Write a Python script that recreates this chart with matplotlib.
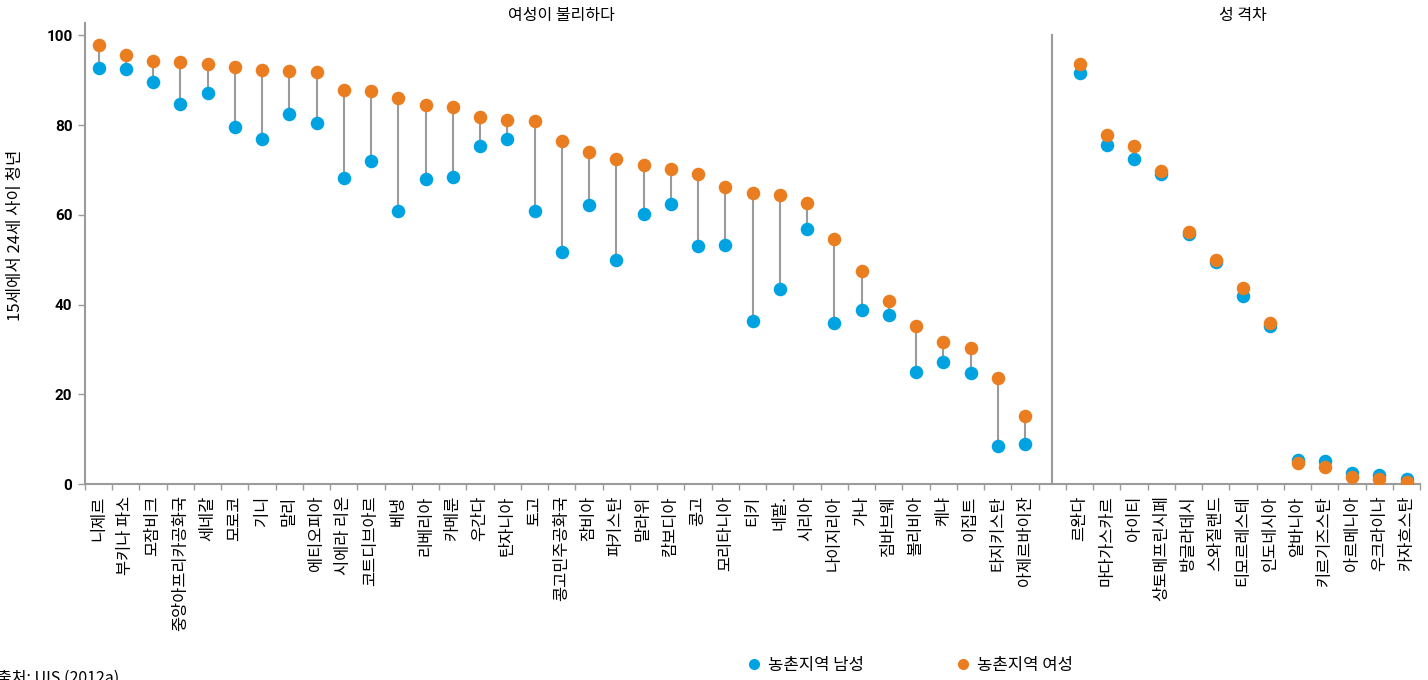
import numpy as np
import matplotlib.pyplot as plt
from matplotlib.lines import Line2D

plt.rcParams['font.family'] = ['Noto Sans CJK KR', 'DejaVu Sans']

# 여성이 불리하다 그룹
left_countries = ['니제르', '부키나 파소', '모잠비크', '중앙아프리카공화국', '세네갈', '모로코', '기니',
                  '말리', '에티오피아', '시에라 리온', '코트디브아르', '베냉', '리베리아', '카메룬',
                  '우간다', '탄자니아', '토고', '콩고민주공화국', '잠비아', '파키스탄', '말라위',
                  '캄보디아', '콩고', '모리타니아', '티키', '네팔.', '시리아', '나이지리아', '가나',
                  '짐바브웨', '볼리비아', '케냐', '이집트', '타지키스탄', '아제르바이잔']
left_male = [92.7, 92.4, 89.5, 84.6, 87.1, 79.5, 76.8, 82.4, 80.4, 68.2, 71.9, 60.8, 67.9, 68.4,
             75.3, 76.8, 60.8, 51.7, 62.1, 49.9, 60.1, 62.4, 53.0, 53.2, 36.3, 43.4, 56.8, 35.9,
             38.8, 37.6, 24.9, 27.2, 24.7, 8.5, 8.9]
left_female = [97.8, 95.5, 94.2, 94.0, 93.5, 92.9, 92.2, 92.0, 91.8, 87.7, 87.5, 86.0, 84.4, 84.0,
               81.7, 81.1, 80.8, 76.4, 73.9, 72.4, 71.0, 70.2, 69.0, 66.1, 64.8, 64.4, 62.6, 54.6,
               47.4, 40.8, 35.2, 31.6, 30.3, 23.6, 15.1]

# 성 격차 그룹
right_countries = ['르완다', '마다가스카르', '아이티', '상토메프린시페', '방글라데시', '스와질랜드',
                   '티모르레스테', '인도네시아', '알바니아', '키르기즈스탄', '아르메니아', '우크라이나',
                   '카자흐스탄']
right_male = [91.6, 75.6, 72.4, 69.2, 55.7, 49.4, 41.9, 35.3, 5.4, 5.2, 2.5, 2.1, 1.1]
right_female = [93.5, 77.7, 75.3, 69.8, 56.2, 50.0, 43.8, 35.9, 4.8, 3.9, 1.5, 1.1, 0.5]

yticks = [0, 20, 40, 60, 80, 100]

blue = '#00A3E2'
orange = '#E97D20'
grey = '#9B9B9B'

n_left = len(left_countries)
x_left = np.arange(n_left)
x_right = np.arange(len(right_countries)) + n_left + 1
x_all = np.concatenate([x_left, x_right])
male = np.array(left_male + right_male)
female = np.array(left_female + right_female)
labels = left_countries + right_countries

fig = plt.figure(figsize=(14.28, 6.8), dpi=100)
ax = fig.add_axes([0.0595, 0.288, 0.935, 0.678])

ax.vlines(x_all, male, female, color=grey, lw=1.5, zorder=1)
ax.scatter(x_all, male, s=95, color=blue, zorder=2, linewidths=0)
ax.scatter(x_all, female, s=95, color=orange, zorder=3, linewidths=0)

# 그룹 구분선
ax.plot([n_left, n_left], [0, 100], color=grey, lw=1.5, zorder=0)

ax.set_xlim(-0.5, x_right[-1] + 0.5)
ax.set_ylim(0, 102.7)
ax.set_yticks(yticks)
ax.set_yticklabels([str(v) for v in yticks], fontsize=11,
                   family=['Liberation Sans Narrow', 'Roboto', 'DejaVu Sans'], fontweight='bold')
ax.set_xticks(x_all)
ax.set_xticklabels(labels, rotation=90, fontsize=11.8, va='top')
ax.set_xticks(np.arange(-0.5, x_right[-1] + 1, 1), minor=True)
ax.tick_params(axis='x', which='major', length=0, pad=8)
ax.tick_params(axis='x', which='minor', length=4, color=grey, width=1)
ax.tick_params(axis='y', length=5, color=grey, width=1, pad=4)

for s in ['top', 'right']:
    ax.spines[s].set_visible(False)
for s in ['left', 'bottom']:
    ax.spines[s].set_color(grey)
    ax.spines[s].set_linewidth(1.5)

ax.set_ylabel('15세에서 24세 사이 청년', fontsize=12)
ax.yaxis.set_label_coords(-0.046, 0.54)

ax.text((x_left[0] + x_left[-1]) / 2, 1.017, '여성이 불리하다', transform=ax.get_xaxis_transform(),
        ha='center', va='center', fontsize=11.5)
ax.text((x_right[0] + x_right[-1]) / 2, 1.017, '성 격차', transform=ax.get_xaxis_transform(),
        ha='center', va='center', fontsize=11.5)

handles = [Line2D([], [], marker='o', ls='', color=blue, markersize=7, label='농촌지역 남성'),
           Line2D([], [], marker='o', ls='', color=orange, markersize=7, label='농촌지역 여성')]
fig.legend(handles=handles, loc='center left', bbox_to_anchor=(0.5115, 0.022), ncol=2,
           frameon=False, fontsize=12, handletextpad=0.35, columnspacing=5.45, handlelength=1.0)

fig.text(-0.002, 0.003, '출처: UIS (2012a)', fontsize=11.5, va='center', ha='left')

fig.savefig('out.png', dpi=100)
